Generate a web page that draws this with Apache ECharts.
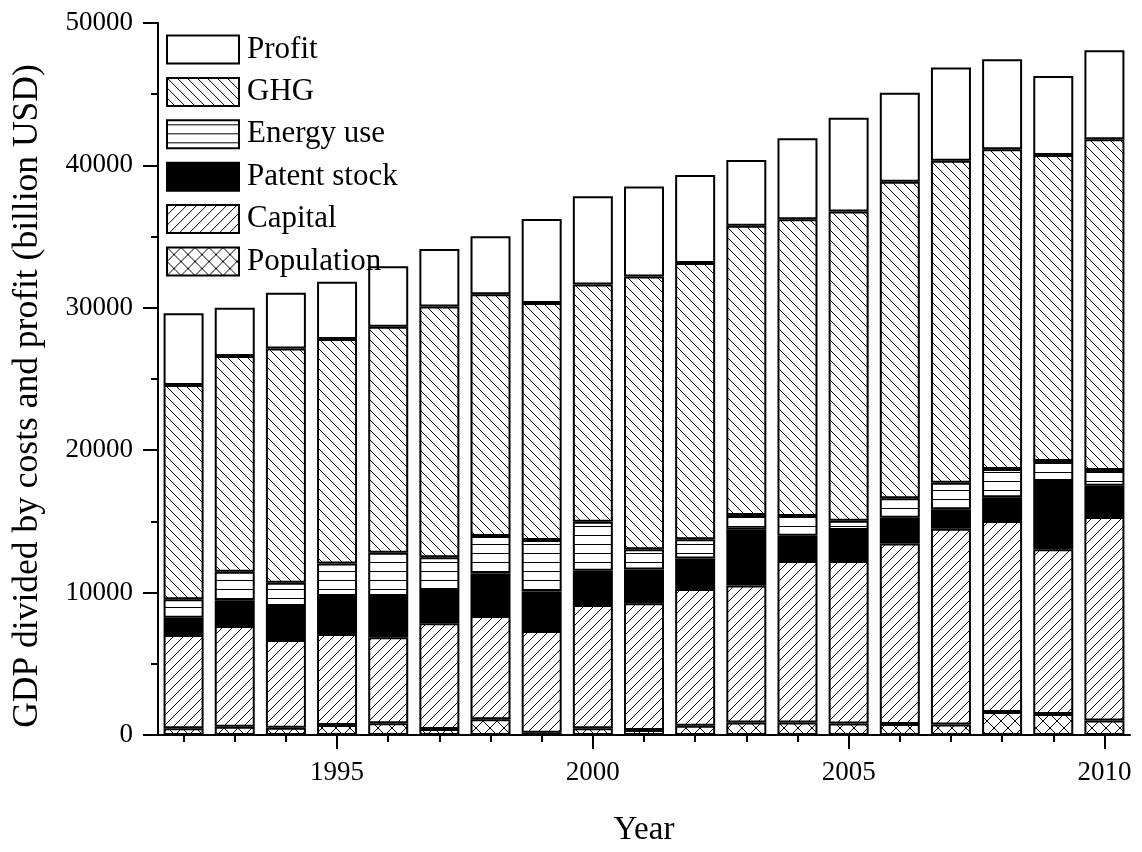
<!DOCTYPE html>
<html>
<head>
<meta charset="utf-8">
<title>GDP divided by costs and profit</title>
<script src="https://cdn.jsdelivr.net/npm/echarts@6/dist/echarts.min.js"></script>
<style>
  html, body { margin: 0; padding: 0; background: #fff; }
  #chart { width: 1142px; height: 852px; }
</style>
</head>
<body>
<div id="chart"></div>
<script>
// Years on the horizontal axis
var years = ['1992','1993','1994','1995','1996','1997','1998','1999','2000','2001',
             '2002','2003','2004','2005','2006','2007','2008','2009','2010'];

// Stacked components of GDP, billion USD (bottom to top)
var population  = [470, 585, 515, 700, 820, 430, 1100, 150, 470, 350, 655, 870, 870, 800, 770, 730, 1615, 1475, 1010];
var capital     = [6550, 7065, 6155, 6390, 6040, 7410, 7260, 7150, 8660, 8900, 9595, 9620, 11350, 11420, 12670, 13760, 13415, 11565, 14300];
var patentStock = [1220, 1780, 2390, 2670, 2900, 2340, 2990, 2770, 2410, 2380, 2150, 3950, 1780, 2180, 1820, 1360, 1660, 4800, 2200];
var energyUse   = [1290, 2040, 1640, 2290, 3040, 2300, 2620, 3620, 3440, 1410, 1340, 1010, 1380, 650, 1360, 1870, 1990, 1400, 1100];
var ghg         = [15050, 15140, 16450, 15760, 15870, 17610, 16990, 16640, 16660, 19160, 19400, 20320, 20830, 21720, 22240, 22610, 22450, 21490, 23220];
var profit      = [5030, 3400, 3910, 4020, 4240, 4040, 4060, 5910, 6190, 6320, 6190, 4610, 5690, 6580, 6250, 6550, 6320, 5550, 6250];

// Legend order, top to bottom
var legendOrder = ['Profit', 'GHG', 'Energy use', 'Patent stock', 'Capital', 'Population'];
var majorYears = ['1995', '2000', '2005', '2010'];

var FONT = '"Liberation Serif", "Times New Roman", "DejaVu Serif", serif';

// Hatch fills drawn on small repeating canvases
function makeTile(w, h, draw) {
  var c = document.createElement('canvas');
  c.width = w; c.height = h;
  var ctx = c.getContext('2d');
  ctx.fillStyle = '#fff';
  ctx.fillRect(0, 0, w, h);
  ctx.strokeStyle = '#000';
  ctx.lineWidth = 1;
  draw(ctx, w, h);
  return { image: c, repeat: 'repeat' };
}
function drawSlash(ctx, s, step) {       // "/" lines
  ctx.beginPath();
  for (var k = -2 * s; k <= 2 * s; k += step) {
    ctx.moveTo(k, s);
    ctx.lineTo(k + s, 0);
  }
  ctx.stroke();
}
function drawBackslash(ctx, s, step) {   // "\" lines
  ctx.beginPath();
  for (var k = -2 * s; k <= 2 * s; k += step) {
    ctx.moveTo(k, 0);
    ctx.lineTo(k + s, s);
  }
  ctx.stroke();
}

var capitalFill = makeTile(40, 40, function (ctx, w) { drawSlash(ctx, w, 10); });
var ghgFill = makeTile(40, 40, function (ctx, w) { drawBackslash(ctx, w, 10); });
var popFill = makeTile(28, 28, function (ctx, w) { drawSlash(ctx, w, 14); drawBackslash(ctx, w, 14); });
var energyFill = makeTile(10, 9, function (ctx, w) {
  ctx.beginPath();
  ctx.moveTo(0, 4.5); ctx.lineTo(w, 4.5);
  ctx.stroke();
});

function barSeries(name, data, fill) {
  return {
    name: name,
    type: 'bar',
    stack: 'gdp',
    data: data,
    barWidth: 40,
    xAxisIndex: 0,
    itemStyle: { color: fill, borderColor: '#000', borderWidth: 2 },
    emphasis: { disabled: true }
  };
}

var chart = echarts.init(document.getElementById('chart'), null, { renderer: 'canvas' });

var axisLineStyle = { color: '#000', width: 2 };
function isMajor(idx, val) { return majorYears.indexOf(val) >= 0; }

chart.setOption({
  animation: false,
  backgroundColor: '#fff',
  textStyle: { fontFamily: FONT, color: '#000' },
  grid: { left: 158, right: 12, top: 23, bottom: 116.5, containLabel: false },
  legend: {
    data: legendOrder,
    orient: 'vertical',
    left: 166,
    top: 34,
    icon: 'rect',
    itemWidth: 72,
    itemHeight: 28,
    itemGap: 11.4,
    padding: 0,
    selectedMode: false,
    itemStyle: { borderColor: '#000', borderWidth: 2 },
    textStyle: { fontFamily: FONT, fontSize: 31, color: '#000', padding: [0, 0, 0, 3] }
  },
  xAxis: [
    {
      type: 'category',
      data: years,
      position: 'bottom',
      boundaryGap: true,
      name: 'Year',
      nameLocation: 'middle',
      nameGap: 79,
      nameTextStyle: { fontFamily: FONT, fontSize: 33, color: '#000' },
      axisLine: { show: true, lineStyle: axisLineStyle },
      axisTick: { show: true, inside: false, alignWithLabel: true, interval: 0, length: 7, lineStyle: axisLineStyle },
      axisLabel: {
        show: true,
        interval: isMajor,
        margin: 24,
        fontFamily: FONT, fontSize: 27, color: '#000'
      },
      splitLine: { show: false }
    },
    {
      type: 'category',
      data: years,
      position: 'bottom',
      boundaryGap: true,
      axisLine: { show: false },
      axisTick: { show: true, inside: false, alignWithLabel: true, interval: isMajor, length: 14, lineStyle: axisLineStyle },
      axisLabel: { show: false },
      splitLine: { show: false }
    }
  ],
  yAxis: {
    type: 'value',
    min: 0,
    max: 50000,
    interval: 10000,
    axisLine: { show: true, lineStyle: axisLineStyle },
    axisTick: { show: true, inside: false, length: 15, lineStyle: axisLineStyle },
    minorTick: { show: true, splitNumber: 2, length: 7, lineStyle: axisLineStyle },
    axisLabel: {
      margin: 25, fontFamily: FONT, fontSize: 27, color: '#000',
      formatter: function (v) { return String(v); }
    },
    splitLine: { show: false },
    minorSplitLine: { show: false }
  },
  graphic: [{
    type: 'text',
    x: 28,
    y: 396,
    rotation: Math.PI / 2,
    style: {
      text: 'GDP divided by costs and profit (billion USD)',
      font: '35.5px ' + FONT,
      fill: '#000',
      textAlign: 'center',
      textVerticalAlign: 'middle'
    }
  }],
  series: [
    barSeries('Population', population, popFill),
    barSeries('Capital', capital, capitalFill),
    barSeries('Patent stock', patentStock, '#000'),
    barSeries('Energy use', energyUse, energyFill),
    barSeries('GHG', ghg, ghgFill),
    barSeries('Profit', profit, '#fff')
  ]
});
</script>
</body>
</html>
